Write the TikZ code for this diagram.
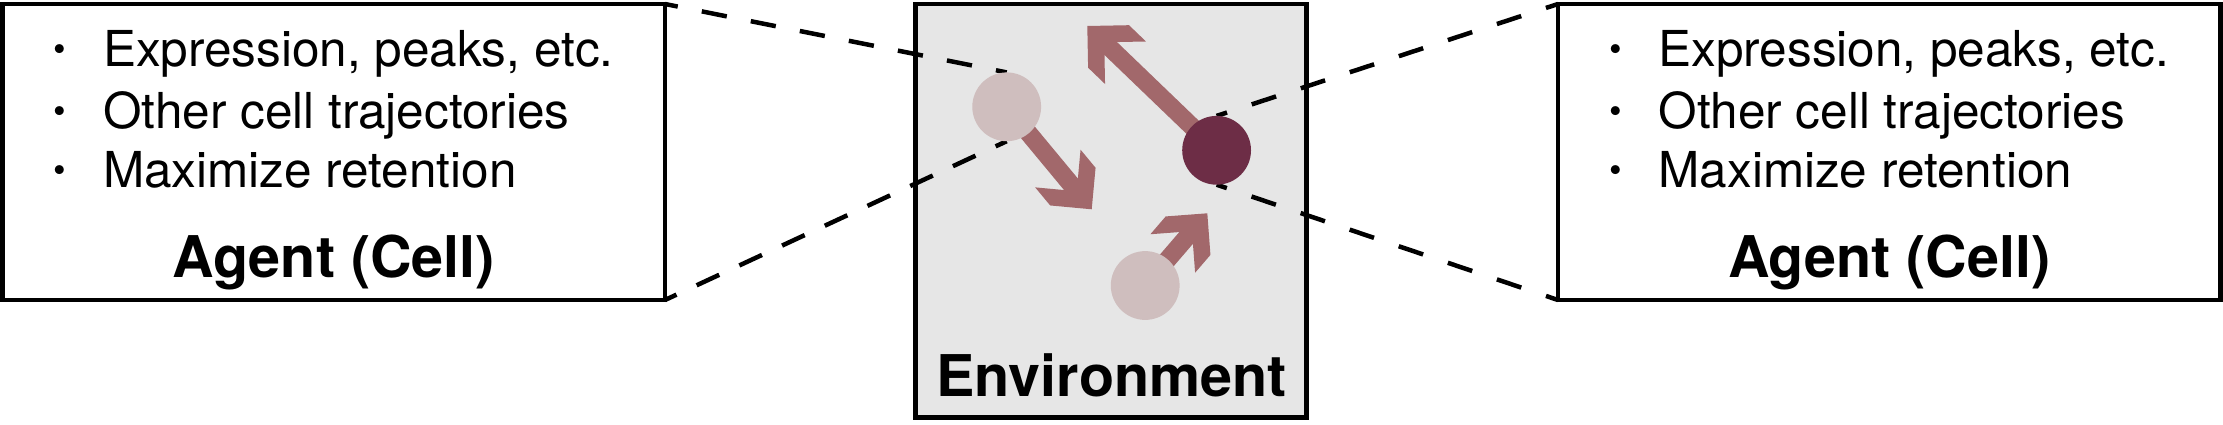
\documentclass[tikz,border=0pt]{standalone}
\usepackage{fontspec}
\setmainfont{TeX Gyre Heros}
\definecolor{envgray}{HTML}{E6E6E6}
\definecolor{arrowcol}{HTML}{A2686B}
\definecolor{lightcell}{HTML}{CFBEBE}
\definecolor{darkcell}{HTML}{6D2D46}
\pgfdeclarelayer{back}
\pgfdeclarelayer{mid}
\pgfsetlayers{back,mid,main}
\begin{document}
\begin{tikzpicture}[x=1pt,y=1pt,
  agentbox/.style={draw=black, line width=4.6pt, inner sep=0pt, outer sep=0pt, minimum width=662.5pt, minimum height=296pt},
  envbox/.style={draw=black, fill=envgray, line width=4.6pt, inner sep=0pt, outer sep=0pt, minimum width=391pt, minimum height=413.5pt},
  cell/.style={circle, inner sep=0pt, outer sep=0pt, minimum size=68.8pt},
  itemtxt/.style={inner sep=0pt, outer sep=0pt, font=\fontsize{49.5}{60}\selectfont, anchor=base west},
  bul/.style={inner sep=0pt, outer sep=0pt, font=\fontsize{36}{40}\selectfont, anchor=base},
  titletxt/.style={inner sep=0pt, outer sep=0pt, font=\fontsize{57.5}{66}\selectfont\bfseries, anchor=base},
  link/.style={draw=black, line width=4.5pt},
  shaft/.style={draw=arrowcol, line width=18pt, shorten >=31pt},
  arrhead/.pic={\fill[arrowcol] (0,0) -- (-29.5,29.5) -- (-53,29.5) -- (-32.5,9) -- (-32.5,-9) -- (-53,-29.5) -- (-29.5,-29.5) -- cycle;}
]
\useasboundingbox (0,0) rectangle (2223,424);

% agent boxes
\node[agentbox] (lbox) at (333.75,272) {};
\node[agentbox] (rbox) at (1889.25,272) {};

% environment
\begin{pgfonlayer}{back}
\node[envbox] (env) at (1111,213.25) {};
\end{pgfonlayer}

% cells
\node[cell, fill=lightcell] (c1) at (1006.7,317.2) {};
\node[cell, fill=darkcell] (c2) at (1216.6,273.7) {};
\node[cell, fill=lightcell] (c3) at (1145.2,138.5) {};

\coordinate (t1) at (1091.7,214.7);
\coordinate (t2) at (1087.3,398);
\coordinate (t3) at (1207.3,210.7);

\begin{pgfonlayer}{mid}
\draw[link, dash pattern=on 25.5pt off 24.5pt, dash phase=12.5pt] (lbox.north east) -- (c1.north);
\draw[link, dash pattern=on 24.9pt off 22.2pt, dash phase=12.2pt] (lbox.south east) -- (c1.south);
\draw[link, dash pattern=on 25.6pt off 26pt, dash phase=12.9pt] (rbox.north west) -- (c2.north);
\draw[link, dash pattern=on 25.7pt off 26.1pt, dash phase=13pt] (rbox.south west) -- (c2.south);

\draw[shaft] (c1.center) -- (t1);
\pic[rotate=-50.3] at (t1) {arrhead};
\draw[shaft] (c2.center) -- (t2);
\pic[rotate=136.1] at (t2) {arrhead};
\draw[shaft] (c3.center) -- (t3);
\pic[rotate=49.3] at (t3) {arrhead};
\end{pgfonlayer}

% left texts
\node[bul] (lb1) at (60,362.3) {•};
\node[bul] (lb2) at (60,300.7) {•};
\node[bul] (lb3) at (60,241.3) {•};
\node[itemtxt] (li1) at (103,357.3) {Expression, peaks, etc.};
\node[itemtxt] (li2) at (103,295.7) {Other cell trajectories};
\node[itemtxt] (li3) at (103,236.3) {Maximize retention};
\node[titletxt] (lt) at (333.75,146.5) {Agent (Cell)};

% right texts
\node[bul] (rb1) at (1615.5,362.3) {•};
\node[bul] (rb2) at (1615.5,300.7) {•};
\node[bul] (rb3) at (1615.5,241.3) {•};
\node[itemtxt] (ri1) at (1658.5,357.3) {Expression, peaks, etc.};
\node[itemtxt] (ri2) at (1658.5,295.7) {Other cell trajectories};
\node[itemtxt] (ri3) at (1658.5,236.3) {Maximize retention};
\node[titletxt] (rt) at (1889.25,146.5) {Agent (Cell)};

% environment title
\node[titletxt] (et) at (1111.5,28) {Environment};
\end{tikzpicture}
\end{document}
